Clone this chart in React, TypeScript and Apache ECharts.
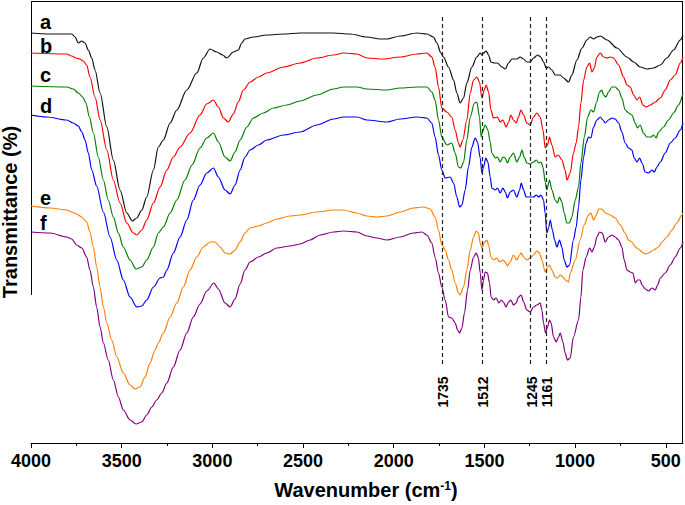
import React, { useEffect, useRef } from "react";
import * as echarts from "echarts";

// Wavenumber axis ticks (cm-1)
const majorTicks = [4000, 3500, 3000, 2500, 2000, 1500, 1000, 500];
const minorTicks = [3750, 3250, 2750, 2250, 1750, 1250, 750];

// Marked bands (cm-1)
const peakMarks = [1735, 1512, 1245, 1161];

const curveNames = ["a", "b", "c", "d", "e", "f"];

// Spectra: [wavenumber (cm-1), transmittance (offset, a.u.)]
const curveA: [number, number][] = [
  [4000, 410], [3895, 409], [3775, 409], [3757, 406], [3739, 400], [3720, 402], [3702, 400], [3684, 393],
  [3665, 385], [3647, 373], [3619, 350], [3582, 316], [3546, 283], [3509, 253], [3472, 230], [3441, 222],
  [3417, 225], [3389, 233], [3362, 246], [3325, 273], [3298, 296], [3270, 303], [3233, 320], [3196, 333],
  [3141, 353], [3086, 370], [3050, 385], [3013, 394], [2976, 391], [2943, 388], [2921, 385], [2884, 391],
  [2857, 393], [2838, 400], [2820, 404], [2774, 406], [2700, 408], [2608, 409], [2516, 410], [2332, 410],
  [2240, 409], [2148, 406], [2075, 404], [2038, 404], [1965, 407], [1872, 410], [1817, 409], [1781, 406],
  [1762, 400], [1740, 390], [1726, 386], [1698, 376], [1670, 363], [1652, 350], [1634, 340], [1615, 345],
  [1597, 360], [1569, 376], [1542, 386], [1523, 390], [1514, 388], [1505, 390], [1490, 392], [1477, 388],
  [1464, 381], [1446, 380], [1428, 380], [1404, 376], [1385, 374], [1367, 380], [1348, 384], [1321, 384],
  [1303, 386], [1284, 384], [1266, 381], [1248, 381], [1229, 385], [1207, 388], [1189, 386], [1174, 381],
  [1159, 375], [1146, 376], [1128, 373], [1110, 368], [1082, 368], [1064, 365], [1036, 361], [1018, 368],
  [990, 383], [962, 395], [935, 403], [917, 406], [898, 404], [880, 406], [861, 407], [824, 403],
  [769, 395], [714, 386], [677, 381], [641, 376], [604, 374], [567, 375], [530, 378], [494, 385],
  [457, 393], [420, 403], [405, 408],
];

const curveB: [number, number][] = [
  [4000, 390], [3803, 389], [3776, 387], [3752, 385], [3730, 384], [3712, 382], [3693, 378], [3675, 366],
  [3647, 346], [3619, 323], [3582, 293], [3546, 263], [3509, 240], [3472, 220], [3436, 210], [3417, 208],
  [3389, 213], [3362, 223], [3325, 240], [3288, 256], [3251, 273], [3215, 286], [3178, 296], [3123, 310],
  [3068, 328], [3031, 339], [2994, 343], [2967, 336], [2939, 325], [2913, 321], [2884, 329], [2857, 341],
  [2829, 353], [2792, 361], [2746, 366], [2700, 370], [2608, 376], [2516, 380], [2424, 385], [2332, 388],
  [2277, 390], [2203, 389], [2148, 385], [2057, 384], [1965, 386], [1872, 389], [1817, 390], [1790, 386],
  [1772, 376], [1753, 356], [1735, 335], [1707, 331], [1680, 326], [1661, 313], [1643, 300], [1634, 296],
  [1619, 303], [1597, 323], [1578, 350], [1560, 363], [1542, 366], [1527, 361], [1514, 345], [1501, 353],
  [1490, 358], [1477, 351], [1464, 333], [1450, 325], [1428, 326], [1413, 321], [1398, 323], [1380, 316],
  [1367, 321], [1354, 328], [1340, 323], [1325, 320], [1312, 326], [1299, 333], [1284, 328], [1266, 320],
  [1248, 318], [1229, 326], [1211, 330], [1192, 326], [1177, 313], [1165, 295], [1152, 298], [1141, 306],
  [1128, 298], [1110, 286], [1092, 288], [1073, 283], [1055, 273], [1045, 263], [1027, 270], [1009, 290],
  [994, 300], [981, 316], [968, 340], [953, 363], [935, 376], [920, 380], [907, 371], [894, 375],
  [880, 386], [861, 390], [843, 386], [824, 385], [806, 386], [788, 385], [760, 378], [733, 366],
  [714, 358], [696, 356], [677, 348], [659, 343], [644, 346], [626, 338], [608, 336], [585, 338],
  [558, 341], [530, 345], [503, 353], [475, 363], [448, 368], [420, 380], [405, 386],
];

const curveC: [number, number][] = [
  [4000, 357], [3803, 356], [3767, 354], [3739, 350], [3715, 346], [3697, 340], [3678, 326], [3656, 310],
  [3629, 286], [3601, 263], [3574, 243], [3546, 226], [3518, 210], [3491, 196], [3454, 183], [3421, 174],
  [3389, 176], [3362, 183], [3325, 196], [3298, 210], [3270, 216], [3233, 230], [3196, 243], [3151, 263],
  [3112, 278], [3068, 295], [3031, 305], [2994, 310], [2967, 301], [2930, 286], [2902, 282], [2875, 291],
  [2847, 303], [2810, 316], [2774, 325], [2719, 330], [2663, 335], [2590, 338], [2516, 342], [2424, 348],
  [2332, 354], [2277, 356], [2203, 356], [2148, 354], [2038, 353], [1965, 355], [1872, 356], [1817, 356],
  [1790, 351], [1772, 343], [1753, 323], [1735, 306], [1707, 298], [1680, 300], [1661, 290], [1643, 276],
  [1630, 275], [1615, 281], [1597, 303], [1578, 326], [1555, 340], [1542, 341], [1527, 326], [1518, 306],
  [1511, 311], [1496, 318], [1481, 313], [1468, 301], [1459, 290], [1440, 285], [1428, 286], [1413, 281],
  [1398, 286], [1385, 285], [1373, 280], [1358, 286], [1340, 290], [1321, 281], [1306, 286], [1293, 293],
  [1281, 286], [1266, 280], [1248, 279], [1229, 281], [1214, 283], [1201, 280], [1188, 281], [1177, 276],
  [1165, 261], [1156, 253], [1141, 263], [1128, 253], [1110, 243], [1097, 240], [1086, 246], [1073, 241],
  [1060, 230], [1046, 220], [1031, 220], [1018, 226], [999, 243], [981, 256], [968, 280], [949, 306],
  [931, 326], [913, 333], [898, 331], [883, 340], [865, 351], [852, 353], [843, 348], [830, 346],
  [816, 351], [797, 356], [779, 356], [760, 353], [742, 345], [724, 333], [705, 330], [687, 328],
  [668, 320], [656, 315], [641, 318], [623, 310], [604, 306], [582, 306], [567, 308], [553, 305],
  [540, 311], [512, 316], [485, 323], [457, 330], [430, 338], [405, 350],
];

const curveD: [number, number][] = [
  [4000, 328], [3913, 326], [3803, 323], [3767, 320], [3739, 317], [3720, 311], [3702, 303], [3684, 290],
  [3665, 273], [3638, 257], [3601, 231], [3564, 206], [3527, 183], [3491, 163], [3454, 146], [3417, 136],
  [3389, 137], [3362, 143], [3325, 156], [3288, 165], [3270, 166], [3251, 173], [3215, 190], [3178, 206],
  [3141, 223], [3105, 243], [3068, 258], [3031, 270], [2994, 275], [2967, 266], [2930, 253], [2902, 249],
  [2875, 258], [2847, 273], [2820, 286], [2792, 293], [2746, 298], [2700, 303], [2608, 308], [2516, 311],
  [2424, 318], [2332, 324], [2277, 326], [2203, 326], [2148, 323], [2038, 321], [1965, 324], [1872, 326],
  [1817, 325], [1790, 320], [1772, 306], [1753, 288], [1735, 273], [1716, 265], [1689, 266], [1670, 260],
  [1652, 246], [1637, 236], [1624, 238], [1606, 253], [1588, 276], [1569, 296], [1551, 305], [1538, 301],
  [1523, 285], [1514, 270], [1505, 276], [1492, 285], [1481, 281], [1468, 266], [1459, 255], [1440, 253],
  [1428, 255], [1413, 250], [1398, 255], [1385, 251], [1373, 245], [1358, 251], [1340, 253], [1321, 246],
  [1306, 253], [1297, 260], [1284, 253], [1270, 246], [1248, 246], [1229, 246], [1214, 248], [1201, 246],
  [1188, 248], [1174, 243], [1165, 230], [1156, 210], [1146, 215], [1137, 223], [1125, 213], [1113, 203],
  [1100, 196], [1086, 203], [1073, 196], [1060, 183], [1045, 176], [1031, 178], [1009, 203], [994, 216],
  [981, 236], [968, 263], [953, 286], [939, 300], [926, 306], [913, 305], [898, 316], [880, 323],
  [861, 326], [846, 323], [834, 320], [816, 323], [797, 325], [779, 324], [760, 320], [742, 311],
  [724, 300], [705, 295], [687, 293], [674, 285], [659, 281], [644, 285], [631, 280], [613, 271],
  [595, 270], [576, 273], [563, 271], [549, 276], [530, 281], [503, 290], [475, 300], [448, 305],
  [420, 313], [405, 320],
];

const curveE: [number, number][] = [
  [4000, 237], [3895, 235], [3803, 233], [3776, 231], [3748, 229], [3720, 226], [3693, 221], [3675, 211],
  [3656, 196], [3638, 176], [3619, 156], [3601, 136], [3582, 120], [3555, 103], [3527, 86], [3491, 70],
  [3454, 58], [3426, 54], [3399, 56], [3371, 66], [3344, 80], [3316, 93], [3298, 100], [3270, 110],
  [3233, 126], [3196, 140], [3160, 156], [3123, 173], [3086, 186], [3050, 196], [3013, 201], [2985, 201],
  [2957, 196], [2930, 190], [2902, 189], [2875, 193], [2847, 201], [2820, 210], [2792, 215], [2746, 217],
  [2700, 220], [2645, 224], [2571, 227], [2516, 228], [2424, 231], [2332, 233], [2277, 233], [2203, 230],
  [2148, 227], [2093, 226], [2038, 227], [1965, 231], [1891, 235], [1836, 236], [1799, 234], [1772, 226],
  [1753, 213], [1735, 198], [1716, 193], [1698, 183], [1680, 173], [1661, 160], [1643, 150], [1634, 148],
  [1615, 156], [1597, 173], [1578, 193], [1560, 206], [1545, 212], [1533, 210], [1523, 200], [1514, 195],
  [1499, 201], [1486, 203], [1477, 198], [1464, 186], [1450, 183], [1431, 185], [1417, 181], [1398, 183],
  [1385, 181], [1373, 177], [1358, 181], [1340, 188], [1321, 183], [1306, 188], [1297, 190], [1284, 186],
  [1266, 183], [1248, 185], [1229, 188], [1211, 192], [1196, 190], [1183, 183], [1165, 171], [1152, 176],
  [1141, 178], [1128, 173], [1110, 166], [1097, 165], [1082, 168], [1067, 166], [1055, 163], [1036, 161],
  [1027, 170], [999, 183], [972, 203], [950, 218], [926, 228], [913, 230], [898, 223], [883, 228],
  [870, 234], [852, 234], [834, 230], [806, 228], [779, 225], [751, 218], [724, 210], [705, 203],
  [687, 201], [668, 196], [650, 194], [631, 191], [613, 189], [595, 190], [567, 193], [540, 196],
  [521, 201], [494, 206], [466, 213], [439, 220], [411, 228], [405, 230],
];

const curveF: [number, number][] = [
  [4000, 211], [3895, 210], [3803, 206], [3776, 204], [3748, 198], [3720, 195], [3693, 186], [3675, 173],
  [3656, 156], [3638, 136], [3619, 116], [3601, 100], [3574, 83], [3546, 63], [3518, 46], [3491, 33],
  [3454, 23], [3421, 19], [3389, 21], [3362, 28], [3334, 36], [3307, 43], [3279, 50], [3251, 60],
  [3215, 76], [3178, 93], [3141, 110], [3105, 126], [3068, 139], [3031, 152], [2991, 160], [2967, 154],
  [2930, 140], [2902, 136], [2875, 144], [2847, 159], [2820, 173], [2792, 181], [2746, 186], [2700, 190],
  [2645, 195], [2571, 197], [2516, 199], [2461, 203], [2406, 208], [2332, 211], [2277, 212], [2203, 211],
  [2148, 207], [2093, 205], [2038, 203], [1965, 206], [1891, 210], [1845, 211], [1817, 208], [1790, 200],
  [1772, 186], [1753, 170], [1735, 156], [1716, 143], [1698, 126], [1680, 125], [1661, 120], [1648, 113],
  [1637, 110], [1624, 115], [1610, 130], [1593, 153], [1578, 173], [1560, 186], [1545, 190], [1533, 185],
  [1523, 170], [1514, 153], [1505, 163], [1496, 171], [1483, 170], [1472, 160], [1463, 146], [1450, 143],
  [1435, 145], [1420, 140], [1407, 143], [1395, 141], [1381, 136], [1367, 141], [1354, 143], [1340, 138],
  [1325, 140], [1312, 146], [1297, 148], [1284, 141], [1266, 133], [1248, 131], [1229, 136], [1211, 138],
  [1192, 140], [1183, 133], [1174, 120], [1163, 110], [1152, 116], [1141, 123], [1132, 120], [1119, 106],
  [1104, 101], [1091, 106], [1082, 110], [1067, 101], [1055, 90], [1042, 83], [1027, 85], [1009, 106],
  [981, 123], [968, 146], [957, 173], [939, 186], [920, 195], [907, 191], [894, 196], [880, 206],
  [865, 211], [850, 210], [834, 201], [816, 206], [797, 208], [779, 206], [760, 203], [742, 196],
  [729, 183], [714, 173], [696, 171], [681, 170], [668, 160], [656, 163], [641, 163], [631, 158],
  [613, 154], [595, 152], [576, 155], [558, 153], [545, 158], [530, 165], [503, 170], [475, 178],
  [448, 186], [420, 195], [405, 201],
];

const curves = [curveA, curveB, curveC, curveD, curveE, curveF];
const curveColors = ["#111111", "#ff0000", "#008000", "#0000ff", "#ff8000", "#800080"];

const FONT = "Liberation Sans, Arial, Helvetica, sans-serif";
const NARROW = "Liberation Sans Narrow, Arial Narrow, Liberation Sans, Arial, sans-serif";

export default function App() {
  const ref = useRef<HTMLDivElement>(null);

  useEffect(() => {
    if (!ref.current) return;
    const chart = echarts.init(ref.current, null, { renderer: "svg" });

    const left = 31;
    const top = 1;
    const right = 683;
    const bottom = 443;

    const lineSeries: any[] = curves.map((data, i) => ({
      type: "line",
      name: curveNames[i],
      data,
      xAxisIndex: 0,
      yAxisIndex: 0,
      showSymbol: false,
      symbol: "none",
      smooth: 0.3,
      smoothMonotone: "x",
      lineStyle: { color: curveColors[i], width: 1.2 },
      itemStyle: { color: curveColors[i] },
      silent: true,
      z: 3,
    }));

    // dashed marker lines
    lineSeries[0].markLine = {
      silent: true,
      symbol: "none",
      lineStyle: { color: "#222", type: [4, 3], width: 1.2, opacity: 1 },
      label: { show: false },
      emphasis: { disabled: true },
      data: peakMarks.map((p) => [{ coord: [p, 426] }, { coord: [p, 77] }]),
    };

    const letterY = [21.5, 46, 75, 106, 198, 223];

    const baseGraphic: any[] = [
      { type: "line", silent: true, shape: { x1: left + 0.5, y1: top, x2: left + 0.5, y2: 295 }, style: { stroke: "#000", lineWidth: 1 } },
      { type: "line", silent: true, shape: { x1: left, y1: top + 0.5, x2: right, y2: top + 0.5 }, style: { stroke: "#000", lineWidth: 1 } },
      { type: "line", silent: true, shape: { x1: right - 0.5, y1: top, x2: right - 0.5, y2: bottom }, style: { stroke: "#000", lineWidth: 1 } },
      ...curveNames.map((n, i) => ({
        type: "text",
        silent: true,
        x: 40,
        y: letterY[i],
        style: {
          text: n,
          fill: "#000",
          fontSize: 20,
          fontWeight: "bold",
          fontFamily: FONT,
          align: "left",
          verticalAlign: "middle",
        },
      })),
      {
        type: "text",
        silent: true,
        x: 10,
        y: 212,
        rotation: Math.PI / 2,
        style: {
          text: "Transmittance (%)",
          fill: "#000",
          fontSize: 20,
          fontWeight: "bold",
          fontFamily: FONT,
          align: "center",
          verticalAlign: "middle",
        },
      },
      {
        type: "text",
        silent: true,
        x: 366,
        y: 490,
        style: {
          text: "Wavenumber (cm{sup|-1})",
          fill: "#000",
          fontSize: 20,
          fontWeight: "bold",
          fontFamily: FONT,
          align: "center",
          verticalAlign: "middle",
          rich: {
            sup: {
              fontSize: 12,
              fontWeight: "bold",
              fontFamily: FONT,
              fill: "#000",
              verticalAlign: "top",
            },
          },
        },
      },
    ];

    chart.setOption({
      animation: false,
      backgroundColor: "#ffffff",
      grid: {
        left,
        top,
        width: right - left,
        height: bottom - top,
        containLabel: false,
        outerBoundsMode: "none",
      },
      xAxis: [
        {
          type: "value",
          position: "bottom",
          min: 405,
          max: 4000,
          inverse: true,
          axisLine: { show: true, onZero: false, lineStyle: { color: "#000", width: 1 } },
          axisTick: { show: true, customValues: majorTicks, length: 5, lineStyle: { color: "#000", width: 1 } },
          axisLabel: {
            show: true,
            customValues: majorTicks,
            formatter: (v: number) => String(v),
            color: "#000",
            fontSize: 18,
            fontWeight: "bold",
            fontFamily: NARROW,
            margin: 9,
          },
          splitLine: { show: false },
        },
        {
          type: "value",
          position: "bottom",
          min: 405,
          max: 4000,
          inverse: true,
          axisLine: { show: false },
          axisTick: { show: true, customValues: minorTicks, length: 3, lineStyle: { color: "#000", width: 1 } },
          axisLabel: { show: false },
          splitLine: { show: false },
        },
      ],
      yAxis: {
        type: "value",
        min: 0,
        max: 442,
        show: false,
        splitLine: { show: false },
      },
      series: lineSeries,
      graphic: baseGraphic,
    });

    // rotated band labels below the dashed lines, placed through the axis scales
    const peakLabels = peakMarks.map((p) => {
      const pt = chart.convertToPixel({ xAxisIndex: 0, yAxisIndex: 0 }, [p, 51]) as number[];
      return {
        type: "text",
        silent: true,
        x: pt[0] + 1,
        y: pt[1],
        rotation: Math.PI / 2,
        style: {
          text: String(p),
          fill: "#000",
          fontSize: 14,
          fontWeight: "bold",
          fontFamily: FONT,
          align: "center",
          verticalAlign: "middle",
        },
      };
    });
    chart.setOption({ graphic: [...baseGraphic, ...peakLabels] }, { replaceMerge: ["graphic"] });

    return () => chart.dispose();
  }, []);

  return (
    <div
      ref={ref}
      style={{ position: "fixed", left: 0, top: 0, width: 685, height: 505, background: "#fff" }}
    />
  );
}
